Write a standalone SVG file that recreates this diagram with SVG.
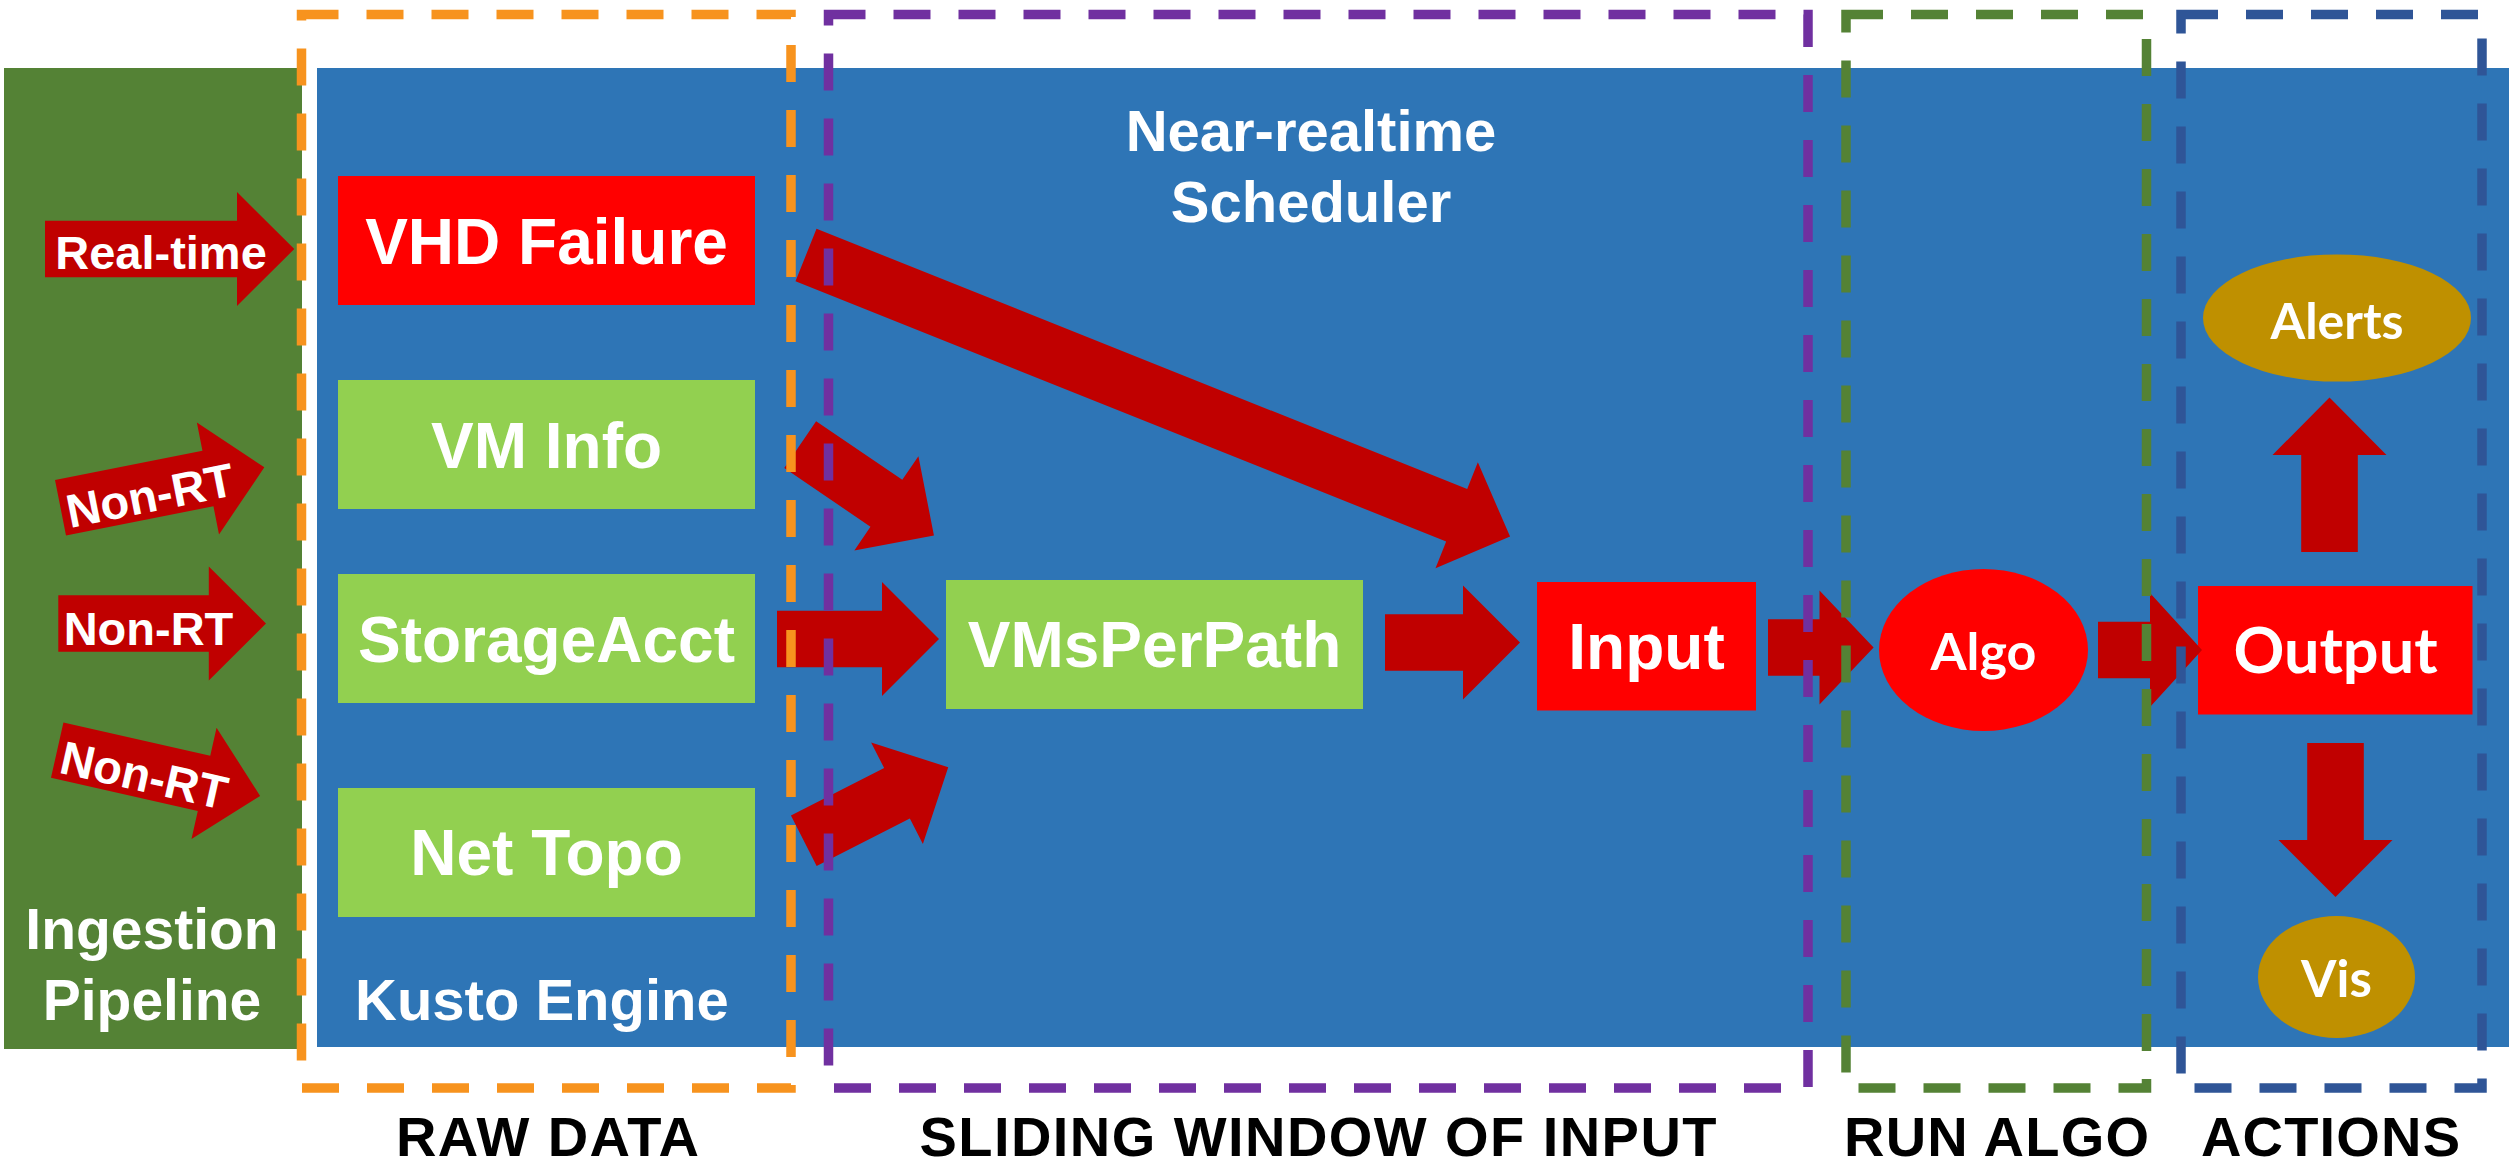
<svg xmlns="http://www.w3.org/2000/svg" width="2509" height="1167" viewBox="0 0 2509 1167">
<style>
.t{font-family:"Liberation Sans",Arial,sans-serif;font-weight:bold;fill:#fff;text-anchor:middle}
.c{font-family:Lato,"Liberation Sans",sans-serif;font-weight:bold;fill:#fff;text-anchor:middle}
.k{font-family:"Liberation Sans",Arial,sans-serif;font-weight:bold;fill:#000;text-anchor:middle;font-size:56px}
.arr{fill:#C00000}
.red{fill:#FF0000}
.lg{fill:#92D050}
.gold{fill:#BF9000}
.frame{fill:none;stroke-width:9.5;stroke-dasharray:37 28}
</style>
<rect x="0" y="0" width="2509" height="1167" fill="#fff"/>

<g id="ingestion-pipeline">
  <rect x="4" y="68" width="298" height="981" fill="#548235"/>
  <text class="t" x="152" y="949" font-size="57">Ingestion</text>
  <text class="t" x="152" y="1020" font-size="57">Pipeline</text>
</g>

<g id="kusto-engine">
  <rect x="317" y="68" width="2192" height="979" fill="#2E75B6"/>
  <text class="t" x="355" y="1020" font-size="58" style="text-anchor:start">Kusto Engine</text>
  <text class="t" x="1311" y="150.5" font-size="58">Near-realtime</text>
  <text class="t" x="1311" y="222" font-size="58">Scheduler</text>
</g>

<g id="vhd-failure">
  <rect class="red" x="338" y="176" width="417" height="129"/>
  <text class="t" x="546.5" y="264" font-size="64">VHD Failure</text>
</g>
<g id="vm-info">
  <rect class="lg" x="338" y="380" width="417" height="129"/>
  <text class="t" x="546.5" y="468" font-size="64">VM Info</text>
</g>
<g id="storage-acct">
  <rect class="lg" x="338" y="574" width="417" height="129"/>
  <text class="t" x="546.5" y="662" font-size="64">StorageAcct</text>
</g>
<g id="net-topo">
  <rect class="lg" x="338" y="788" width="417" height="129"/>
  <text class="t" x="546.5" y="875" font-size="64">Net Topo</text>
</g>
<g id="vms-per-path">
  <rect class="lg" x="946" y="580" width="417" height="129"/>
  <text class="t" x="1154.5" y="667" font-size="64">VMsPerPath</text>
</g>
<g id="input">
  <rect class="red" x="1537" y="582" width="219" height="128.5"/>
  <text class="t" x="1646.5" y="669" font-size="64">Input</text>
</g>
<g id="algo">
  <ellipse class="red" cx="1983.5" cy="650" rx="104.5" ry="81"/>
  <text class="c" x="1983.5" y="670" font-size="52">Algo</text>
</g>
<g id="output">
  <rect class="red" x="2198" y="586" width="274.5" height="128.5"/>
  <text class="c" x="2335.5" y="673" font-size="63">Output</text>
</g>
<g id="alerts">
  <ellipse class="gold" cx="2337" cy="318" rx="134" ry="63.6"/>
  <text class="c" x="2337" y="339" font-size="50">Alerts</text>
</g>
<g id="vis">
  <ellipse class="gold" cx="2336.5" cy="977" rx="78.5" ry="61"/>
  <text class="c" x="2336.5" y="997" font-size="51">Vis</text>
</g>

<g id="connectors">
  <g id="ingest-realtime" transform="translate(45,249)">
    <polygon class="arr" points="0,-28.3 192,-28.3 192,-57 249.3,0 192,57 192,28.3 0,28.3"/>
    <text class="t" x="116" y="19.5" font-size="47">Real-time</text>
  </g>
  <g id="ingest-nonrt-1" transform="translate(60.5,507.7) rotate(-11.2)">
    <polygon class="arr" points="0,-28.3 150.3,-28.3 150.3,-57 207.8,0 150.3,57 150.3,28.3 0,28.3"/>
    <text class="t" x="90.2" y="21.7" font-size="47">Non-RT</text>
  </g>
  <g id="ingest-nonrt-2" transform="translate(58.3,623.5)">
    <polygon class="arr" points="0,-28.3 150.5,-28.3 150.5,-57 207.7,0 150.5,57 150.5,28.3 0,28.3"/>
    <text class="t" x="90.2" y="21.7" font-size="47">Non-RT</text>
  </g>
  <g id="ingest-nonrt-3" transform="translate(57.2,750.2) rotate(12.7)">
    <polygon class="arr" points="0,-28.3 150.5,-28.3 150.5,-57 208,0 150.5,57 150.5,28.3 0,28.3"/>
    <text class="t" x="90.2" y="21.7" font-size="47">Non-RT</text>
  </g>
  <polygon class="arr" transform="translate(806,255) rotate(21.8)" points="0,-28.3 700.8,-28.3 700.8,-57 758.3,0 700.8,57 700.8,28.3 0,28.3"/>
  <polygon class="arr" transform="translate(800.2,444.7) rotate(34.2)" points="0,-28.3 104.2,-28.3 104.2,-57 161.7,0 104.2,57 104.2,28.3 0,28.3"/>
  <polygon class="arr" transform="translate(777,639)" points="0,-28.3 105,-28.3 105,-57 162,0 105,57 105,28.3 0,28.3"/>
  <polygon class="arr" transform="translate(803.8,840.8) rotate(-27)" points="0,-28.3 104.6,-28.3 104.6,-57 162.1,0 104.6,57 104.6,28.3 0,28.3"/>
  <polygon class="arr" transform="translate(1385,642.5)" points="0,-28.3 78,-28.3 78,-57 135,0 78,57 78,28.3 0,28.3"/>
  <polygon class="arr" transform="translate(1768,647.5)" points="0,-28.3 51.5,-28.3 51.5,-57 105.6,0 51.5,57 51.5,28.3 0,28.3"/>
  <polygon class="arr" transform="translate(2098,650)" points="0,-28.3 52,-28.3 52,-57 104,0 52,57 52,28.3 0,28.3"/>
  <polygon class="arr" transform="translate(2329.5,552) rotate(-90)" points="0,-28.3 97,-28.3 97,-57 154.5,0 97,57 97,28.3 0,28.3"/>
  <polygon class="arr" transform="translate(2335.5,743) rotate(90)" points="0,-28.3 97,-28.3 97,-57 154,0 97,57 97,28.3 0,28.3"/>
</g>

<g id="stage-raw-data">
  <rect class="frame" x="301.5" y="14.5" width="489.5" height="1073.5" stroke="#F7931E"/>
  <text class="k" x="547.5" y="1156" textLength="303">RAW DATA</text>
</g>
<g id="stage-sliding-window">
  <rect class="frame" x="828.5" y="14.5" width="979.5" height="1073.5" stroke="#7030A0"/>
  <text class="k" x="1318" y="1156" textLength="797">SLIDING WINDOW OF INPUT</text>
</g>
<g id="stage-run-algo">
  <rect class="frame" x="1846" y="14.5" width="300.5" height="1073.5" stroke="#548235"/>
  <text class="k" x="1996.5" y="1156" textLength="305">RUN ALGO</text>
</g>
<g id="stage-actions">
  <rect class="frame" x="2181" y="14.5" width="301" height="1073.5" stroke="#2F5597"/>
  <text class="k" x="2330.5" y="1156" textLength="259">ACTIONS</text>
</g>
</svg>
